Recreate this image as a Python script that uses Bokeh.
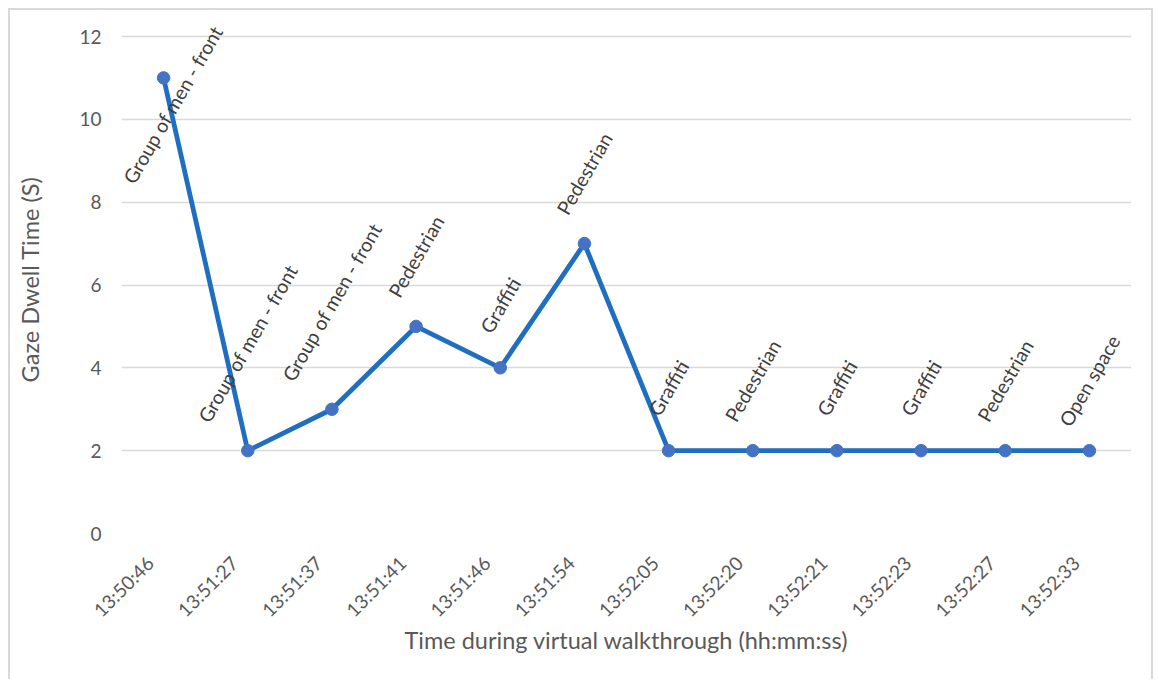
import math

from bokeh.core.properties import value
from bokeh.embed import file_html
from bokeh.models import ColumnDataSource, FixedTicker, LabelSet, Range1d
from bokeh.plotting import figure
from bokeh.resources import INLINE

# Gaze samples recorded during the virtual walkthrough
times = ["13:50:46", "13:51:27", "13:51:37", "13:51:41", "13:51:46", "13:51:54",
         "13:52:05", "13:52:20", "13:52:21", "13:52:23", "13:52:27", "13:52:33"]
dwell = [11, 2, 3, 5, 4, 7, 2, 2, 2, 2, 2, 2]
targets = ["Group of men - front", "Group of men - front", "Group of men - front",
           "Pedestrian", "Graffiti", "Pedestrian", "Graffiti", "Pedestrian",
           "Graffiti", "Graffiti", "Pedestrian", "Open space"]
y_ticks = [0, 2, 4, 6, 8, 10, 12]

FONT = "Lato"
TEXT = "#595959"
GRID = "#d9d9d9"
LINE = "#1f6ebf"
MARKER = "#4472c4"

W, H = 1145, 671
LEFT, RIGHT, TOP, BOTTOM = 111, 24, 15, 148
frame_w = W - LEFT - RIGHT
frame_h = H - TOP - BOTTOM
n = len(times)
pos = list(range(n))                 # category slots 0..n-1
cat_w = frame_w / n

# value axis runs 0..12; a little head room above 12 keeps the
# topmost rotated label inside the plotting frame
y_max = 12
head_px = 11
ppu = (frame_h - head_px) / y_max
y_top = y_max + head_px / ppu

# data labels: rotated 60 degrees, centred over each point,
# pushed down / right when there is no room above the point
label_fs = 19.5
angle = math.radians(60)
gap = 28
lift, shift = [], []
for i, (v, t) in enumerate(zip(dwell, targets)):
    length = len(t) * 0.44 * label_fs
    half_h = (length * math.sin(angle) + label_fs * math.cos(angle)) / 2
    half_w = (length * math.cos(angle) + label_fs * math.sin(angle)) / 2
    sy = (y_top - v) * ppu
    cy = sy - gap - half_h
    if cy - half_h < 0:
        cy = half_h
    sx = (i + 0.5) * cat_w
    shift.append(max(0.0, half_w - sx))
    lift.append(sy - cy)

src = ColumnDataSource(dict(pos=pos, dwell=dwell, target=targets,
                            lift=lift, shift=shift))

p = figure(width=W, height=H, output_backend="svg", toolbar_location=None,
           x_range=Range1d(-0.5, n - 0.5), y_range=Range1d(0, y_top),
           min_border_left=LEFT, min_border_right=RIGHT,
           min_border_top=TOP, min_border_bottom=BOTTOM,
           background_fill_color="white", border_fill_color="white")
p.styles = {"margin-left": "8px", "margin-top": "8px",
            "border": "2px solid #d9d9d9", "border-bottom": "none"}
p.outline_line_color = None

p.line(x="pos", y="dwell", source=src, line_width=4.8, line_color=LINE,
       line_join="round")
p.scatter(x="pos", y="dwell", source=src, size=12.5, fill_color=MARKER,
          line_color=MARKER, line_width=1)

labels = LabelSet(x="pos", y="dwell", text="target", source=src,
                  x_offset="shift", y_offset="lift", angle=60, angle_units="deg",
                  text_align="center", text_baseline="middle",
                  text_font=value(FONT), text_font_size=f"{label_fs}px",
                  text_color="#404040")
p.add_layout(labels)

# rotated time labels sit slightly left of each category centre
tick_shift = 0.16
x_ticks = [round(i - tick_shift, 2) for i in pos]
p.xaxis.ticker = FixedTicker(ticks=x_ticks)
p.xaxis.major_label_overrides = dict(zip(x_ticks, times))

p.xgrid.grid_line_color = None
p.ygrid.grid_line_color = GRID
p.ygrid.grid_line_width = 1.5
p.yaxis.ticker = FixedTicker(ticks=y_ticks)

for ax in (p.xaxis[0], p.yaxis[0]):
    ax.axis_line_color = None
    ax.major_tick_line_color = None
    ax.minor_tick_line_color = None
    ax.major_tick_out = 0
    ax.major_tick_in = 0
    ax.major_label_text_font = FONT
    ax.major_label_text_font_size = "19px"
    ax.major_label_text_color = TEXT
    ax.axis_label_text_font = FONT
    ax.axis_label_text_font_size = "23.5px"
    ax.axis_label_text_font_style = "normal"
    ax.axis_label_text_color = TEXT

p.yaxis.axis_label = "Gaze Dwell Time (S)"
p.yaxis.major_label_standoff = 20
p.yaxis.axis_label_standoff = 32
p.xaxis.axis_label = "Time during virtual walkthrough (hh:mm:ss)"
p.xaxis.major_label_orientation = math.pi / 4
p.xaxis.major_label_standoff = 26
p.xaxis.axis_label_standoff = -6

open("out.html", "w").write(file_html(p, INLINE))
